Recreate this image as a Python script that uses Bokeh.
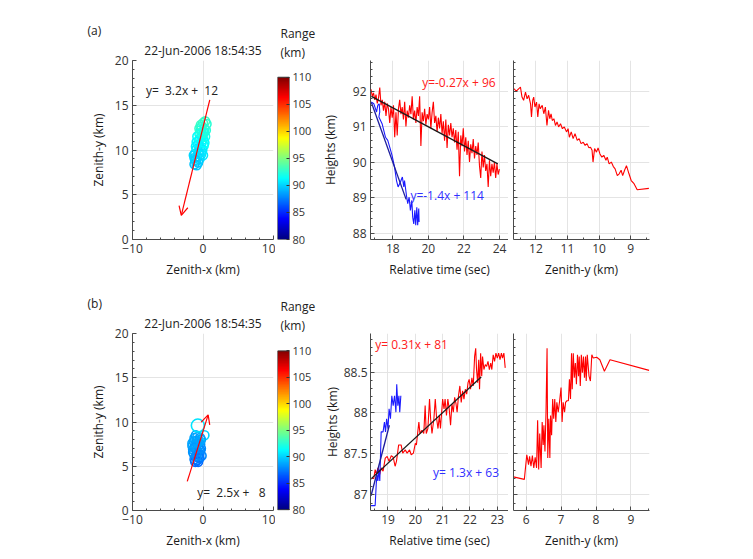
import numpy as np
from bokeh.plotting import figure
from bokeh.layouts import row, column
from bokeh.models import (Label, Arrow, OpenHead, LinearColorMapper, FixedTicker,
                          ColumnDataSource, Range1d, Title)
from bokeh.transform import transform
from bokeh.embed import file_html
from bokeh.resources import INLINE

FONT = "Open Sans"

# ---------------- DATA ----------------
date_title = "22-Jun-2006 18:54:35"

# scatter (a): zenith x, zenith y, range (km)
sa_x = [0.3, 0.0, 0.5, -0.2, 0.2, -0.3, 0.1, -0.5, -0.1, -0.4, 0.0, -0.6, -0.2, -0.7, 0.1,
        -0.4, -0.9, -0.1, -0.6, -1.1, -0.3, -0.8, 0.0, -1.2, -0.5, -1.0, -0.7, -1.2, -0.9,
        -1.3, -0.2, -1.0, 0.3, -0.3, 0.4, -0.8, 0.2, -0.5, -0.9, -0.2, 0.1, -0.6, -1.1]
sa_y = [13.2, 13.0, 12.9, 12.6, 12.4, 12.2, 12.0, 11.8, 11.6, 11.3, 11.2, 11.0, 10.8, 10.6, 10.5,
        10.3, 10.1, 10.0, 9.8, 9.6, 9.5, 9.3, 9.4, 9.1, 9.0, 8.8, 8.6, 8.4, 8.3,
        9.4, 9.8, 10.4, 11.5, 12.8, 12.2, 11.5, 10.8, 12.4, 10.9, 11.9, 11.9, 9.6, 8.9]
sa_r = [93.0, 92.8, 92.5, 92.6, 92.3, 92.0, 92.2, 91.8, 91.9, 91.5, 91.6, 91.3, 91.2, 91.0, 91.4,
        90.8, 90.6, 90.7, 90.5, 90.3, 90.4, 90.2, 90.6, 90.0, 90.1, 89.9, 89.8, 89.6, 89.7,
        90.1, 90.6, 90.9, 91.8, 92.9, 92.4, 91.4, 91.3, 92.7, 91.1, 92.1, 92.0, 90.4, 89.9]
fit_a_text = "y=\u00a0 3.2x +\u00a0 12"
arrow_a_x = [0.96, -3.08]
arrow_a_y = [15.6, 2.69]

# scatter (b)
sb_x = [-1.2, -0.8, -1.0, -0.6, -1.3, -0.9, -0.5, -1.4, -1.0, -0.6, -1.5, -1.1, -0.7, -0.4, -1.3,
        -0.9, -0.5, -1.2, -0.8, -0.4, -1.0, -0.6, -0.3, -1.1, -0.7, -0.4, -0.9, 0.2,
        -1.4, -0.2, -0.7, -1.2, -0.5, -0.9, -1.5, -0.3]
sb_y = [5.8, 5.7, 6.1, 6.0, 6.4, 6.5, 6.4, 6.9, 7.0, 6.9, 7.3, 7.4, 7.3, 7.5, 7.8,
        7.9, 7.8, 8.2, 8.3, 8.2, 8.5, 6.3, 7.0, 5.5, 5.5, 6.8, 7.6, 8.5,
        6.6, 6.2, 7.7, 7.1, 5.9, 6.2, 7.6, 8.0]
sb_r = [87.5, 87.2, 87.8, 87.4, 88.0, 88.2, 87.9, 88.4, 88.3, 88.1, 88.5, 88.6, 88.4, 88.2, 88.6,
        88.7, 88.5, 88.7, 88.6, 88.4, 88.5, 87.6, 88.0, 87.0, 86.8, 87.7, 88.5, 90.0,
        88.1, 87.8, 88.6, 88.3, 87.3, 87.9, 88.6, 88.6]
sb_big_x = [-0.73]
sb_big_y = [9.6]
sb_big_r = [90.5]
fit_b_text = "y=\u00a0 2.5x +\u00a0\u00a0 8"
arrow_b_x = [-2.23, 0.73]
arrow_b_y = [3.29, 10.8]

# heights vs time (a)
red_a_t = [16.78, 16.85, 16.92, 16.99, 17.06, 17.13, 17.20, 17.27, 17.34, 17.41, 17.48, 17.55,
           17.62, 17.69, 17.76, 17.83, 17.90, 17.97, 18.04, 18.11, 18.18, 18.25, 18.32, 18.39,
           18.46, 18.53, 18.60, 18.67, 18.74, 18.81, 18.88, 18.95, 19.02, 19.09, 19.16, 19.23,
           19.30, 19.37, 19.44, 19.51, 19.58, 19.65, 19.72, 19.79, 19.86, 19.93, 20.00, 20.07,
           20.14, 20.21, 20.28, 20.35, 20.42, 20.49, 20.56, 20.63, 20.70, 20.77, 20.84, 20.91,
           20.98, 21.05, 21.12, 21.19, 21.26, 21.33, 21.40, 21.47, 21.54, 21.61, 21.68, 21.75,
           21.82, 21.89, 21.96, 22.03, 22.10, 22.17, 22.24, 22.31, 22.38, 22.45, 22.52, 22.59,
           22.66, 22.73, 22.80, 22.87, 22.94, 23.01, 23.08, 23.15, 23.22, 23.29, 23.36, 23.43,
           23.50, 23.57, 23.64, 23.71, 23.78, 23.85, 23.92, 23.99]
red_a_h = [92.05, 91.85, 91.95, 91.75, 91.90, 91.65, 91.80, 92.10, 91.60, 91.75, 91.45, 91.70,
           91.30, 91.65, 91.50, 91.10, 91.55, 91.25, 91.60, 90.70, 91.40, 90.75, 91.50, 91.75,
           91.35, 91.55, 91.20, 91.70, 91.00, 91.45, 91.25, 91.60, 91.35, 91.85, 91.20, 91.45,
           91.10, 91.55, 91.30, 91.85, 90.45, 91.40, 91.15, 91.50, 91.05, 91.35, 91.20, 91.55,
           90.95, 91.40, 91.70, 91.10, 91.30, 90.85, 91.25, 90.95, 91.35, 90.80, 91.15, 90.60,
           91.20, 90.40, 91.05, 90.75, 91.10, 90.70, 90.95, 90.55, 90.90, 90.35, 90.85, 89.60,
           90.75, 90.45, 90.95, 90.30, 90.70, 90.20, 90.60, 90.00, 90.50, 90.25, 90.65, 90.10,
           90.45, 90.20, 90.55, 89.90, 89.55, 90.30, 89.85, 90.20, 89.75, 89.95, 89.30, 90.05,
           89.60, 89.95, 89.70, 90.00, 89.55, 89.95, 89.65, 89.80]
blue_a_t = [16.79, 16.94, 17.09, 17.16, 17.24, 17.27, 17.22, 17.40, 17.59, 17.72, 17.83, 17.96,
            18.10, 18.21, 18.30, 18.43, 18.54, 18.62, 18.66, 18.77, 18.84, 18.92, 18.99, 19.07,
            19.12, 19.18, 19.24, 19.29, 19.35, 19.40, 19.46, 19.48]
blue_a_h = [91.69, 91.64, 91.41, 91.60, 91.64, 91.41, 91.27, 91.08, 90.70, 90.61, 90.42, 90.19,
            89.86, 89.48, 89.30, 89.44, 89.58, 89.30, 89.48, 89.06, 88.83, 89.01, 88.64, 88.92,
            88.45, 88.26, 88.64, 88.22, 88.73, 88.22, 88.69, 88.31]
fit_red_a_t = [16.8, 23.9]
fit_red_a_h = [91.85, 89.95]
fit_blue_a_t = [16.8, 18.75]
fit_blue_a_h = [91.68, 88.95]
txt_red_a = "y=-0.27x + 96"
txt_blue_a = "y=-1.4x + 114"

# heights vs zenith-y (a)
zy_a = [12.70, 12.62, 12.54, 12.49, 12.44, 12.39, 12.33, 12.28, 12.23, 12.17, 12.14, 12.10,
        12.07, 12.03, 11.98, 11.94, 11.90, 11.86, 11.80, 11.75, 11.70, 11.65, 11.60, 11.56,
        11.52, 11.48, 11.43, 11.38, 11.33, 11.28, 11.22, 11.16, 11.10, 11.03, 10.98, 10.94,
        10.88, 10.82, 10.76, 10.69, 10.63, 10.57, 10.50, 10.44, 10.38, 10.32, 10.27, 10.22,
        10.19, 10.14, 10.08, 10.03, 9.97, 9.91, 9.85, 9.78, 9.74, 9.68, 9.61, 9.55, 9.49,
        9.42, 9.36, 9.30, 9.25, 9.19, 9.13, 9.05, 8.98, 8.89, 8.79, 8.42]
zh_a = [92.07, 92.00, 92.07, 92.11, 91.83, 91.74, 91.97, 91.78, 91.88, 91.64, 91.27, 91.74,
        91.83, 91.55, 91.69, 91.27, 91.64, 91.50, 91.60, 91.36, 91.55, 91.03, 91.46, 91.22,
        91.36, 91.17, 91.22, 91.03, 91.13, 90.99, 91.08, 90.94, 90.99, 90.85, 90.94, 90.70,
        90.85, 90.66, 90.80, 90.61, 90.66, 90.52, 90.56, 90.47, 90.52, 90.40, 90.42, 90.33,
        90.00, 90.38, 90.28, 90.40, 90.23, 90.14, 90.19, 90.05, 90.14, 89.95, 90.00, 89.88,
        89.81, 89.62, 89.67, 89.77, 89.62, 89.77, 89.90, 89.67, 89.48, 89.39, 89.22, 89.26]

# heights vs time (b)
red_b_t = [18.36, 18.48, 18.53, 18.58, 18.63, 18.70, 18.75, 18.82, 18.90, 18.97, 19.04, 19.12,
           19.19, 19.26, 19.31, 19.39, 19.48, 19.54, 19.63, 19.70, 19.79, 19.85, 19.93, 20.00,
           20.04, 20.09, 20.13, 20.17, 20.24, 20.31, 20.36, 20.40, 20.46, 20.52, 20.56, 20.61,
           20.68, 20.73, 20.78, 20.83, 20.88, 20.92, 21.00, 21.05, 21.09, 21.14, 21.19, 21.24,
           21.29, 21.34, 21.39, 21.44, 21.49, 21.53, 21.58, 21.63, 21.68, 21.73, 21.78, 21.83,
           21.88, 21.93, 21.97, 22.02, 22.07, 22.12, 22.17, 22.21, 22.24, 22.28, 22.32, 22.35,
           22.39, 22.43, 22.46, 22.51, 22.56, 22.61, 22.66, 22.71, 22.76, 22.80, 22.85, 22.90,
           22.95, 23.00, 23.05, 23.10, 23.15, 23.19, 23.24, 23.29]
red_b_h = [87.20, 87.20, 87.31, 87.25, 87.33, 87.25, 87.33, 87.29, 87.45, 87.47, 87.41, 87.48,
           87.46, 87.35, 87.41, 87.61, 87.61, 87.51, 87.55, 87.51, 87.55, 87.49, 87.51, 87.63,
           87.61, 87.77, 87.89, 87.75, 87.79, 87.75, 88.09, 87.75, 87.81, 88.17, 87.93, 87.75,
           87.93, 88.17, 87.93, 87.81, 87.97, 87.81, 88.17, 88.05, 88.17, 87.97, 88.17, 88.05,
           87.85, 88.11, 88.01, 88.19, 88.11, 88.01, 88.21, 88.33, 88.13, 88.27, 88.17, 88.29,
           88.23, 88.37, 88.41, 88.29, 88.43, 88.33, 88.69, 88.79, 88.53, 88.37, 88.65, 88.29,
           88.73, 88.45, 88.69, 88.53, 88.59, 88.57, 88.63, 88.53, 88.61, 88.53, 88.71, 88.63,
           88.73, 88.67, 88.73, 88.65, 88.73, 88.67, 88.73, 88.55]
blue_b_t = [18.38, 18.53, 18.57, 18.60, 18.63, 18.67, 18.70, 18.73, 18.75, 18.82, 18.87, 18.91,
            18.95, 19.00, 19.04, 19.09, 19.14, 19.19, 19.24, 19.29, 19.32, 19.36, 19.40, 19.43,
            19.47]
blue_b_h = [86.87, 86.87, 87.13, 87.25, 87.17, 87.31, 87.17, 87.53, 87.77, 87.77, 87.89, 87.77,
            87.93, 87.81, 88.05, 87.93, 88.21, 88.09, 88.21, 88.01, 88.35, 88.09, 88.21, 88.01,
            88.21]
fit_red_b_t = [18.36, 22.41]
fit_red_b_h = [87.19, 88.44]
fit_blue_b_t = [18.38, 19.05]
fit_blue_b_h = [86.99, 87.85]
txt_red_b = "y= 0.31x + 81"
txt_blue_b = "y= 1.3x + 63"

# heights vs zenith-y (b)
zy_b = [5.64, 5.95, 6.02, 6.07, 6.10, 6.14, 6.18, 6.22, 6.26, 6.30, 6.33, 6.36, 6.39, 6.43,
        6.46, 6.49, 6.51, 6.54, 6.57, 6.60, 6.62, 6.65, 6.68, 6.70, 6.73, 6.76, 6.79, 6.82,
        6.85, 6.88, 6.92, 6.96, 7.00, 7.03, 7.06, 7.10, 7.13, 7.17, 7.21, 7.24, 7.27, 7.30,
        7.32, 7.35, 7.38, 7.41, 7.44, 7.47, 7.50, 7.52, 7.55, 7.58, 7.61, 7.64, 7.67, 7.70,
        7.72, 7.75, 7.80, 7.84, 7.88, 7.92, 8.02, 8.11, 8.24, 8.40, 9.52]
zh_b = [87.22, 87.19, 87.49, 87.37, 87.47, 87.35, 87.48, 87.33, 87.46, 87.33, 87.91, 87.31,
        87.75, 87.33, 87.89, 87.61, 87.85, 87.53, 88.01, 88.79, 87.45, 87.93, 87.45, 87.97,
        87.73, 88.17, 87.93, 88.17, 87.89, 88.13, 88.01, 88.15, 88.31, 87.89, 88.13, 88.01,
        88.13, 88.15, 88.15, 88.41, 88.17, 88.73, 88.29, 88.73, 88.43, 88.61, 88.35, 88.71,
        88.45, 88.69, 88.33, 88.71, 88.49, 88.69, 88.43, 88.69, 88.39, 88.71, 88.45, 88.39,
        88.71, 88.67, 88.68, 88.65, 88.51, 88.65, 88.52]

scatter_xticks = [-10, 0, 10]
scatter_yticks = [0, 5, 10, 15, 20]
cbar_ticks = [80, 85, 90, 95, 100, 105, 110]
cbar_low, cbar_high = 80, 110

# ---------------- STYLE HELPERS ----------------
AX = "#4a4a4a"
TXT = "#333333"
GRID = "#e4e4e4"
RED = "#ff0000"
BLUE = "#1a1aff"
DBLUE = "#1c1c9c"


def jet(n=256):
    cols = []
    for i in range(n):
        f = i / (n - 1)
        r = min(max(1.5 - abs(4 * f - 3), 0), 1)
        g = min(max(1.5 - abs(4 * f - 2), 0), 1)
        b = min(max(1.5 - abs(4 * f - 1), 0), 1)
        cols.append("#%02x%02x%02x" % (int(r * 255), int(g * 255), int(b * 255)))
    return cols


JET = jet()
mapper = LinearColorMapper(palette=JET, low=cbar_low, high=cbar_high)


def mkfig(xr, yr, w, h, bl, br, bt, bb, **kw):
    p = figure(x_range=xr, y_range=yr, width=w, height=h, title=None,
               min_border_left=bl, min_border_right=br, min_border_top=bt,
               min_border_bottom=bb, output_backend="svg", toolbar_location=None, **kw)
    p.outline_line_color = None
    p.background_fill_color = "white"
    p.border_fill_color = "white"
    for ax in p.axis:
        ax.axis_line_color = AX
        ax.axis_line_width = 1
        ax.major_tick_line_color = AX
        ax.minor_tick_line_color = AX
        ax.major_tick_in = 4
        ax.major_tick_out = 0
        ax.minor_tick_in = 2
        ax.minor_tick_out = 0
        ax.major_label_text_font = FONT
        ax.major_label_text_font_size = "12px"
        ax.major_label_text_color = TXT
        ax.axis_label_text_font = FONT
        ax.axis_label_text_font_size = "12px"
        ax.axis_label_text_font_style = "normal"
        ax.axis_label_text_color = "#1a1a1a"
        ax.major_label_standoff = 4
        ax.axis_label_standoff = 5
    p.grid.grid_line_color = GRID
    p.grid.grid_line_width = 1
    return p


def label(p, x, y, text, color=TXT, align="left"):
    p.add_layout(Label(x=x, y=y, text=text, text_font=FONT, text_font_size="12px",
                       text_color=color, text_align=align, text_baseline="middle"))


def add_title(p, text, align="center", offset=0, standoff=0, size="12px"):
    p.add_layout(Title(text=text, align=align, offset=offset, standoff=standoff,
                       text_font=FONT, text_font_size=size, text_font_style="normal",
                       text_color="#222222"), "above")


# layout widths (page pixels)
W_SC, W_CB, W_MID, W_ZEN = 275, 41, 192, 221


def scatter_panel(xs, ys, rs, arrow_x, arrow_y, fit_text, fit_pos, tag, h, bt, bb,
                  big=None):
    p = mkfig(Range1d(-10, 10), Range1d(0, 20), W_SC, h, 132, 2, bt, bb)
    p.xaxis.ticker = FixedTicker(ticks=scatter_xticks, minor_ticks=[-8, -6, -4, -2, 2, 4, 6, 8])
    p.yaxis.ticker = FixedTicker(ticks=scatter_yticks, minor_ticks=list(range(0, 21)))
    p.xaxis.axis_label = "Zenith-x (km)"
    p.yaxis.axis_label = "Zenith-y (km)"
    src = ColumnDataSource(dict(x=xs, y=ys, r=rs))
    p.scatter("x", "y", source=src, size=9, fill_color=None, line_width=1.6,
              line_color=transform("r", mapper))
    if big is not None:
        bsrc = ColumnDataSource(dict(x=big[0], y=big[1], r=big[2]))
        p.scatter("x", "y", source=bsrc, size=13, fill_color=None, line_width=1.6,
                  line_color=transform("r", mapper))
    p.add_layout(Arrow(end=OpenHead(size=9, line_color=RED, line_width=1.2),
                       x_start=arrow_x[0], y_start=arrow_y[0],
                       x_end=arrow_x[1], y_end=arrow_y[1],
                       line_color=RED, line_width=1.2))
    label(p, fit_pos[0], fit_pos[1], fit_text, color="#222222")
    add_title(p, date_title, align="center", standoff=3)
    add_title(p, tag, align="left", offset=-45, standoff=0)
    return p


def cbar_panel(yr, h, bt, bb):
    p = mkfig(Range1d(0, 1), yr, W_CB, h, 2, 27, bt, bb, y_axis_location="right")
    p.image(image=[np.linspace(cbar_low, cbar_high, 256).reshape(256, 1)], x=0, y=cbar_low,
            dw=1, dh=cbar_high - cbar_low, color_mapper=mapper)
    p.quad(left=[0], right=[1], bottom=[cbar_low], top=[cbar_high], fill_color=None,
           line_color="#333333", line_width=1)
    p.xaxis.visible = False
    p.grid.visible = False
    p.outline_line_color = None
    p.yaxis.ticker = FixedTicker(ticks=cbar_ticks)
    p.yaxis.major_tick_in = 3
    p.yaxis.major_tick_out = 0
    p.yaxis.major_tick_line_color = "#333333"
    p.yaxis.major_label_text_font_size = "11px"
    p.yaxis.major_label_standoff = 3
    p.yaxis.axis_line_color = None
    add_title(p, "(km)", align="left", offset=3, standoff=0)
    add_title(p, "Range", align="left", offset=3, standoff=0)
    return p


def time_panel(xr, yr, yticks, yminor, ylabels, xticks, xminor, red, blue, fr, fb,
               tr, tb, h, bt, bb, ylab_standoff, ytick_standoff):
    p = mkfig(xr, yr, W_MID, h, 54, 0, bt, bb)
    p.xaxis.ticker = FixedTicker(ticks=xticks, minor_ticks=xminor)
    p.yaxis.ticker = FixedTicker(ticks=yticks, minor_ticks=yminor)
    p.yaxis.major_label_overrides = ylabels
    p.yaxis.axis_label_standoff = ylab_standoff
    p.yaxis.major_label_standoff = ytick_standoff
    p.xaxis.axis_label = "Relative time (sec)"
    p.yaxis.axis_label = "Heights (km)"
    p.line(red[0], red[1], color=RED, line_width=1.1)
    p.line(blue[0], blue[1], color=BLUE, line_width=1.1)
    p.line(fb[0], fb[1], color=DBLUE, line_width=1.3)
    p.line(fr[0], fr[1], color="#1a1a1a", line_width=1.3)
    label(p, tr[0], tr[1], tr[2], color="#ff2020")
    label(p, tb[0], tb[1], tb[2], color="#3030ff")
    return p


def zen_panel(xr, yr, yticks, yminor, xticks, xminor, xs, hs, h, bt, bb):
    p = mkfig(xr, yr, W_ZEN, h, 5, 80, bt, bb)
    p.xaxis.ticker = FixedTicker(ticks=xticks, minor_ticks=xminor)
    p.yaxis.ticker = FixedTicker(ticks=yticks, minor_ticks=yminor)
    p.yaxis.major_label_overrides = {t: "" for t in yticks}
    p.yaxis.major_label_standoff = 0
    p.xaxis.axis_label = "Zenith-y (km)"
    p.line(xs, hs, color=RED, line_width=1.1)
    return p


# ---------------- ROW (a) ----------------
HA, TA, BA = 283, 60, 44
sa = scatter_panel(sa_x, sa_y, sa_r, arrow_a_x, arrow_a_y, fit_a_text, (-8.1, 16.7), "(a)",
                   HA, TA, BA)
cba = cbar_panel(Range1d(80.0, 113.1), HA, TA, BA)
ya_ticks = [88, 89, 90, 91, 92]
ya_minor = [round(87.8 + 0.2 * i, 1) for i in range(26)]
ya_range = (87.82, 92.86)
ma = time_panel(Range1d(16.75, 24.5), Range1d(*ya_range), ya_ticks, ya_minor,
                {88: "88", 89: "89", 90: "90", 91: "91", 92: "92"},
                [18, 20, 22, 24], [17, 19, 21, 23],
                (red_a_t, red_a_h), (blue_a_t, blue_a_h),
                (fit_red_a_t, fit_red_a_h), (fit_blue_a_t, fit_blue_a_h),
                (19.65, 92.23, txt_red_a), (18.99, 89.06, txt_blue_a), HA, TA, BA, 11, 4)
za = zen_panel(Range1d(12.71, 8.40), Range1d(*ya_range), ya_ticks, ya_minor,
               [12, 11, 10, 9], [12.5, 11.5, 10.5, 9.5, 8.5], zy_a, zh_a, HA, TA, BA)

# ---------------- ROW (b) ----------------
HB, TB, BB = 268, 50, 38
sb = scatter_panel(sb_x, sb_y, sb_r, arrow_b_x, arrow_b_y, fit_b_text, (-0.82, 2.0), "(b)",
                   HB, TB, BB, big=(sb_big_x, sb_big_y, sb_big_r))
cbb = cbar_panel(Range1d(79.87, 113.29), HB, TB, BB)
yb_ticks = [87, 87.5, 88, 88.5]
yb_minor = [round(86.8 + 0.1 * i, 1) for i in range(22)]
yb_range = (86.81, 88.97)
mb = time_panel(Range1d(18.36, 23.41), Range1d(*yb_range), yb_ticks, yb_minor,
                {87: "87", 87.5: "87.5", 88: "88", 88.5: "88.5"},
                [19, 20, 21, 22, 23], [18.5, 19.5, 20.5, 21.5, 22.5],
                (red_b_t, red_b_h), (blue_b_t, blue_b_h),
                (fit_red_b_t, fit_red_b_h), (fit_blue_b_t, fit_blue_b_h),
                (18.53, 88.83, txt_red_b), (20.65, 87.27, txt_blue_b), HB, TB, BB, 0, 3)
zb = zen_panel(Range1d(5.64, 9.53), Range1d(*yb_range), yb_ticks, yb_minor,
               [6, 7, 8, 9], [6.5, 7.5, 8.5, 9.5], zy_b, zh_b, HB, TB, BB)

layout = column(row(sa, cba, ma, za), row(sb, cbb, mb, zb))

with open("out.html", "w") as f:
    f.write(file_html(layout, INLINE))
